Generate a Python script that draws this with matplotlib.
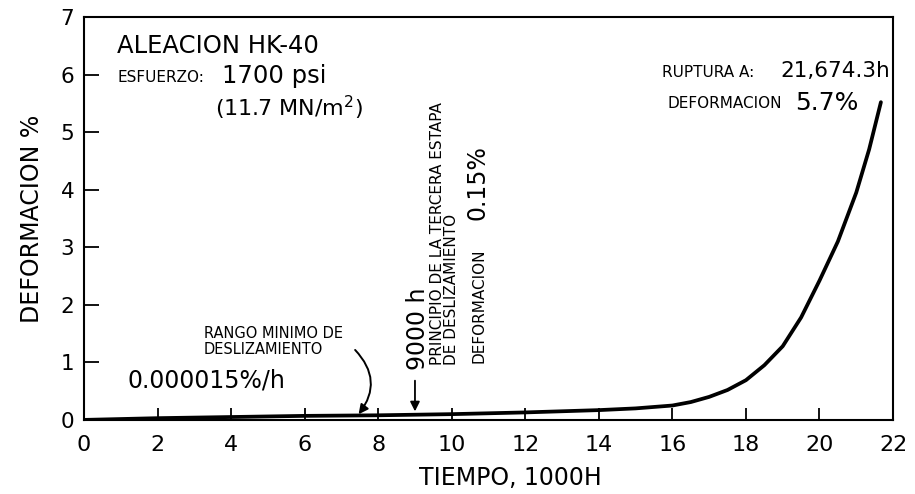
import matplotlib
matplotlib.use("Agg")
import matplotlib.pyplot as plt

# Data
tiempo = [0, 1, 2, 4, 6, 8, 9, 10, 12, 14, 15, 16, 16.5, 17, 17.5, 18, 18.5, 19, 19.5, 20, 20.5, 21, 21.35, 21.67]
deformacion = [0, 0.015, 0.03, 0.05, 0.07, 0.08, 0.09, 0.1, 0.13, 0.17, 0.2, 0.25, 0.31, 0.4, 0.52, 0.69, 0.95, 1.28, 1.78, 2.42, 3.1, 3.95, 4.7, 5.52]
xticks = [0, 2, 4, 6, 8, 10, 12, 14, 16, 18, 20, 22]
yticks = [0, 1, 2, 3, 4, 5, 6, 7]

plt.rcParams['font.family'] = ['DejaVu Sans']

fig = plt.figure(figsize=(9.15, 4.94), dpi=100)
ax = fig.add_axes([0.0918, 0.150, 0.8842, 0.8156])

ax.plot(tiempo, deformacion, color='black', lw=2.7, solid_capstyle='round')

ax.set_xlim(0, 22)
ax.set_ylim(0, 7)
ax.set_xticks(xticks)
ax.set_yticks(yticks)
ax.tick_params(axis='x', direction='in', length=9, width=1.3, labelsize=16, pad=11)
ax.tick_params(axis='y', direction='in', length=11, width=1.3, labelsize=15.5, pad=7)
for s in ax.spines.values():
    s.set_linewidth(1.5)

ax.set_xlabel('TIEMPO, 1000H', fontsize=17)
ax.xaxis.set_label_coords(0.527, -0.115)
ax.set_ylabel('DEFORMACION %', fontsize=17, labelpad=12)

small = 11

# Title block
ax.text(0.9, 6.5, 'ALEACION HK-40', fontsize=17.5, va='center', ha='left')
ax.text(0.9, 5.95, 'ESFUERZO:', fontsize=small, va='center', ha='left')
ax.text(3.75, 5.98, '1700 psi', fontsize=17.5, va='center', ha='left')
ax.text(3.55, 5.42, '(11.7 MN/m$^2$)', fontsize=16, va='center', ha='left')

# Rupture
ax.text(15.72, 6.04, 'RUPTURA A:', fontsize=small, va='center', ha='left')
ax.text(18.93, 6.06, '21,674.3h', fontsize=15.5, va='center', ha='left')
ax.text(15.88, 5.5, 'DEFORMACION', fontsize=small, va='center', ha='left')
ax.text(19.34, 5.5, '5.7%', fontsize=18, va='center', ha='left')

# 9000 h marker
ax.annotate('', xy=(9.0, 0.1), xytext=(9.0, 0.73),
            arrowprops=dict(arrowstyle='-|>', color='black', lw=1.3, mutation_scale=14))
ax.text(9.08, 0.86, '9000 h', fontsize=17, rotation=90, va='bottom', ha='center')
ax.text(9.6, 0.95, 'PRINCIPIO DE LA TERCERA ESTAPA', fontsize=small,
        rotation=90, va='bottom', ha='center')
ax.text(10.0, 0.95, 'DE DESLIZAMIENTO', fontsize=small,
        rotation=90, va='bottom', ha='center')
ax.text(10.74, 0.99, 'DEFORMACION', fontsize=small, rotation=90, va='bottom', ha='center')
ax.text(10.7, 3.47, '0.15%', fontsize=17, rotation=90, va='bottom', ha='center')

# Minimum creep rate
ax.text(3.26, 1.36, 'RANGO MINIMO DE\nDESLIZAMIENTO', fontsize=10.5, va='center', ha='left',
        linespacing=1.1)
ax.annotate('', xy=(7.42, 0.06), xytext=(7.32, 1.25),
            arrowprops=dict(arrowstyle='-|>', color='black', lw=1.4, mutation_scale=14,
                            connectionstyle='arc3,rad=-0.45'))
ax.text(1.17, 0.68, '0.000015%/h', fontsize=17, va='center', ha='left')

fig.savefig('out.png', dpi=100)
